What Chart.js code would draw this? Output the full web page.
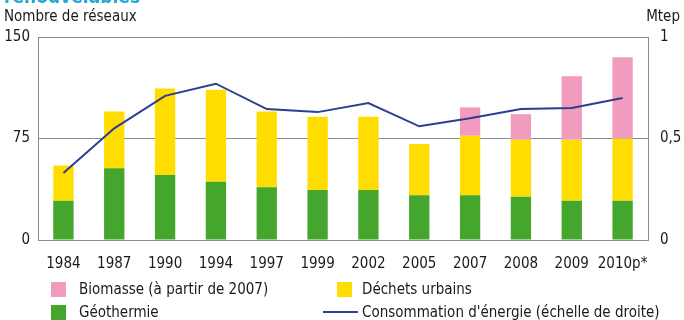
<!DOCTYPE html>
<html>
<head>
<meta charset="utf-8">
<script src="https://cdn.jsdelivr.net/npm/chart.js@4/dist/chart.umd.min.js"></script>
<style>
  body { margin: 0; background: #fff; }
  #wrap { position: relative; width: 684px; height: 320px; overflow: hidden;
          font-family: 'Liberation Sans Narrow', 'DejaVu Sans Condensed', sans-serif; color: #1a1a1a; }
  #chart { position: absolute; left: 0; top: 0; }
  .txt { position: absolute; font-size: 15px; white-space: nowrap; }
  .title { position: absolute; left: 4px; top: -15px; font-size: 19px; font-weight: bold; color: #22aad3; }
  .sw { position: absolute; width: 15px; height: 15px; }
  .ln { position: absolute; height: 2px; background: #2c3d92; }
</style>
</head>
<body>
<div id="wrap">
  <canvas id="chart" width="684" height="320"></canvas>
  <div class="title">renouvelables</div>
  <div class="txt" style="left:4px; top:7px;">Nombre de réseaux</div>
  <div class="txt" style="right:4px; top:7px;">Mtep</div>

  <div class="sw" style="left:51px; top:282px; background:#f19bbf;"></div>
  <div class="txt" style="left:79px; top:280px;">Biomasse (à partir de 2007)</div>
  <div class="sw" style="left:51px; top:305px; background:#44a62d;"></div>
  <div class="txt" style="left:79px; top:303px;">Géothermie</div>
  <div class="sw" style="left:337px; top:282px; background:#ffdd00;"></div>
  <div class="txt" style="left:362px; top:280px;">Déchets urbains</div>
  <div class="ln" style="left:323px; top:311px; width:35px;"></div>
  <div class="txt" style="left:362px; top:303px;">Consommation d'énergie (échelle de droite)</div>
</div>
<script>
const annees = ['1984', '1987', '1990', '1994', '1997', '1999', '2002', '2005', '2007', '2008', '2009', '2010p*'];
const geothermie = [29, 53, 48, 43, 39, 37, 37, 33, 33, 32, 29, 29];
const dechetsUrbains = [26, 42, 64, 68, 56, 54, 54, 38, 44, 42, 45, 46];
const biomasse = [null, null, null, null, null, null, null, null, 21, 19, 47, 60];
const consommation = [0.33, 0.55, 0.71, 0.77, 0.645, 0.63, 0.675, 0.56, 0.60, 0.645, 0.65, 0.70];

const tickFont = { family: "'Liberation Sans Narrow', 'DejaVu Sans Condensed', sans-serif", size: 15 };
const gris = '#8c8c8c';

new Chart(document.getElementById('chart'), {
    data: {
        labels: annees,
        datasets: [
            { type: 'line', label: 'Consommation', data: consommation, yAxisID: 'y2',
              borderColor: '#2c3d92', borderWidth: 2, pointRadius: 0, tension: 0, order: 0 },
            { type: 'bar', label: 'Géothermie', data: geothermie, backgroundColor: '#44a62d', order: 1 },
            { type: 'bar', label: 'Déchets urbains', data: dechetsUrbains, backgroundColor: '#ffdd00', order: 1 },
            { type: 'bar', label: 'Biomasse', data: biomasse, backgroundColor: '#f19bbf', order: 1 }
        ]
    },
    options: {
        responsive: false,
        animation: false,
        layout: { padding: { top: 37 } },
        datasets: { bar: { categoryPercentage: 1, barPercentage: 0.4 } },
        plugins: { legend: { display: false }, tooltip: { enabled: false } },
        scales: {
            x: {
                stacked: true,
                grid: { display: false },
                border: { color: gris, width: 1 },
                ticks: { font: tickFont, color: '#1a1a1a', padding: 7, maxRotation: 0, autoSkip: false },
                afterFit: s => { s.height = 80; }
            },
            y: {
                stacked: true, position: 'left', min: 0, max: 150,
                grid: { color: gris, lineWidth: 1, drawTicks: false },
                border: { color: gris, width: 1 },
                ticks: { stepSize: 75, font: tickFont, color: '#1a1a1a', padding: 8 },
                afterFit: s => { s.width = 38; }
            },
            y2: {
                position: 'right', min: 0, max: 1,
                grid: { display: false, drawTicks: false },
                border: { color: gris, width: 1 },
                ticks: { stepSize: 0.5, font: tickFont, color: '#1a1a1a', padding: 12,
                         callback: v => String(v).replace('.', ',') },
                afterFit: s => { s.width = 36; }
            }
        }
    }
});
</script>
</body>
</html>
